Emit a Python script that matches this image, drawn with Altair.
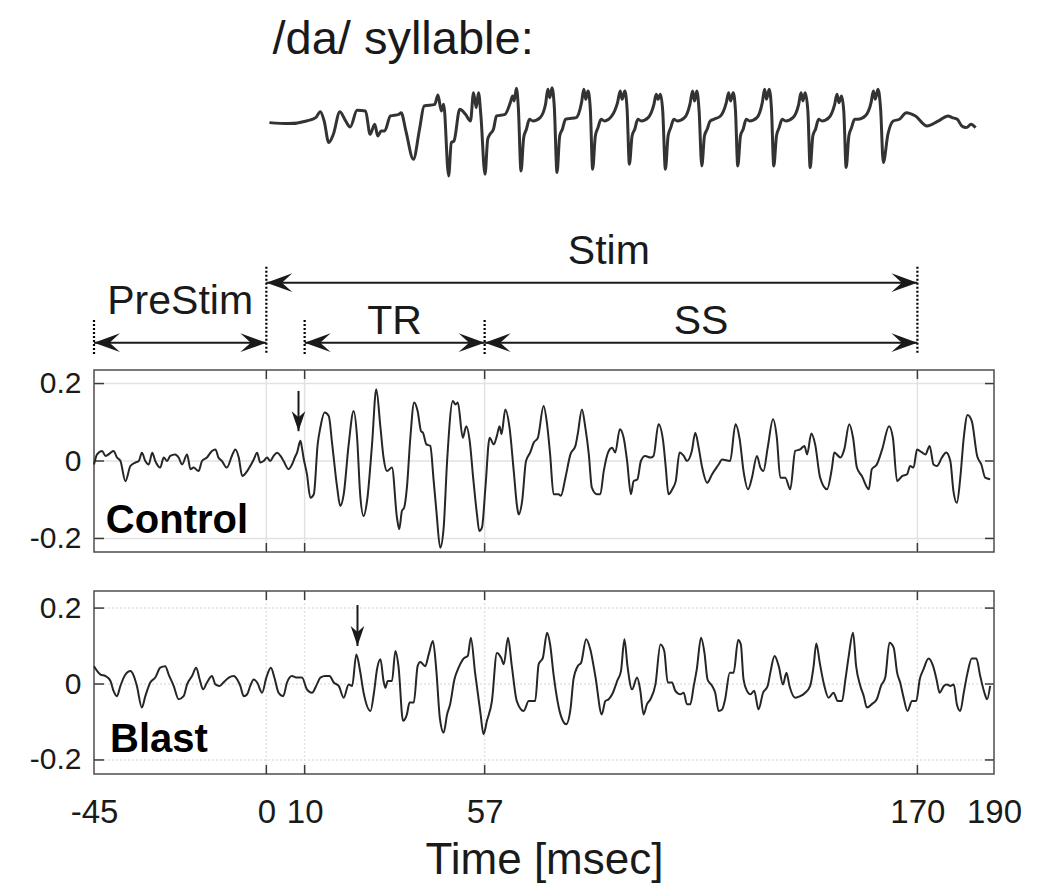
import altair as alt
import pandas as pd

# ---------------- data ----------------
control_t = [
    -45.0, -44.2, -42.9, -42.0, -40.7, -39.9, -39.0, -38.1, -36.8, -35.5,
    -34.2, -33.3, -32.5, -31.6, -30.7, -29.8, -29.0, -27.7, -26.8, -25.9,
    -25.1, -23.8, -22.9, -22.0, -20.7, -19.8, -19.0, -17.7, -16.8, -15.5,
    -14.2, -13.3, -12.5, -11.6, -10.3, -9.0, -8.1, -7.2, -6.3, -5.0,
    -4.2, -3.3, -2.4, -1.6, -0.7, 0.2, 1.0, 1.9, 2.8, 3.7,
    4.5, 5.8, 6.7, 7.6, 8.0, 8.9, 9.3, 9.7, 10.6, 11.5,
    12.4, 13.4, 14.1, 15.2, 16.3, 17.2, 18.5, 19.3, 20.2, 21.5,
    22.8, 23.7, 24.5, 25.4, 26.3, 27.6, 28.7, 29.8, 30.6, 31.5,
    32.8, 34.1, 34.7, 35.4, 36.0, 36.7, 37.6, 38.6, 39.5, 40.4,
    40.9, 41.8, 42.8, 43.7, 44.4, 45.4, 46.3, 47.2, 48.7, 49.4,
    50.0, 51.3, 52.2, 53.1, 54.0, 55.0, 55.6, 56.3, 57.2, 58.3,
    59.4, 60.2, 60.9, 61.4, 62.4, 63.5, 64.6, 65.5, 65.9, 66.8,
    67.8, 68.9, 69.8, 70.9, 72.4, 73.3, 74.1, 75.0, 76.3, 76.9,
    78.1, 79.4, 80.7, 81.3, 82.4, 83.3, 84.2, 85.0, 86.3, 87.2,
    88.1, 89.4, 90.3, 91.1, 92.3, 93.3, 94.2, 95.2, 95.9, 96.9,
    97.8, 98.9, 100.3, 101.1, 102.4, 103.6, 104.3, 105.0, 106.2, 106.9,
    107.9, 109.0, 109.8, 111.1, 112.0, 112.9, 113.8, 115.1, 116.4, 118.1,
    119.0, 121.1, 122.5, 123.6, 124.6, 125.8, 126.8, 128.1, 129.0, 129.8,
    130.9, 132.3, 133.3, 134.2, 135.5, 136.8, 138.1, 139.4, 140.5, 141.2,
    142.3, 143.3, 144.6, 146.4, 147.7, 148.3, 149.9, 150.9, 152.2, 153.2,
    154.2, 155.5, 157.3, 158.1, 159.4, 160.8, 162.6, 163.6, 164.7, 166.0,
    167.3, 168.1, 169.0, 169.9, 171.2, 172.1, 173.2, 174.2, 175.1, 176.4,
    177.5, 178.6, 179.4, 180.3, 181.2, 182.1, 183.1, 184.2, 185.6, 186.7,
    187.7, 189.0,
]
control_v = [
    -0.009, 0.017, 0.026, 0.013, 0.021, 0.026, 0.009, 0.000, -0.052, -0.013,
    -0.004, 0.000, 0.021, 0.000, -0.009, 0.021, 0.000, -0.017, 0.009, 0.000,
    0.013, 0.017, 0.009, -0.009, 0.017, -0.021, -0.017, -0.026, 0.000, 0.009,
    0.026, 0.030, 0.009, 0.000, -0.017, 0.013, 0.030, 0.009, -0.039, -0.026,
    -0.013, 0.004, 0.021, -0.004, 0.000, 0.009, 0.000, 0.013, 0.021, 0.013,
    0.000, -0.021, -0.009, 0.013, 0.021, 0.052, 0.034, 0.009, -0.034, -0.095,
    -0.086, 0.043, 0.086, 0.125, 0.116, 0.043, -0.069, -0.116, -0.086, 0.043,
    0.129, 0.060, -0.086, -0.142, -0.103, 0.043, 0.185, 0.086, 0.009, -0.026,
    -0.017, -0.146, -0.176, -0.129, -0.120, -0.069, 0.060, 0.151, 0.129, 0.077,
    0.073, 0.043, 0.039, -0.052, -0.129, -0.224, -0.172, 0.000, 0.155, 0.146,
    0.151, 0.060, 0.090, 0.052, -0.043, -0.138, -0.181, -0.172, -0.069, 0.060,
    0.043, 0.065, 0.090, 0.069, 0.133, 0.086, -0.026, -0.120, -0.138, -0.103,
    0.000, 0.022, 0.047, 0.060, 0.142, 0.095, 0.017, -0.086, -0.086, -0.090,
    -0.043, 0.017, 0.039, 0.069, 0.133, 0.086, 0.017, -0.069, -0.086, -0.086,
    -0.026, 0.026, 0.034, 0.022, 0.082, 0.060, 0.000, -0.086, -0.052, -0.047,
    0.000, 0.013, 0.009, 0.013, 0.095, 0.052, -0.017, -0.086, -0.069, -0.052,
    0.022, 0.013, 0.000, 0.026, 0.073, 0.034, -0.017, -0.056, -0.034, -0.009,
    0.004, 0.000, 0.095, 0.056, -0.026, -0.073, -0.043, 0.013, -0.017, -0.026,
    0.034, 0.108, 0.060, -0.043, -0.043, -0.073, 0.026, 0.030, 0.039, 0.017,
    0.071, 0.043, -0.043, -0.073, -0.017, 0.022, 0.009, 0.030, 0.095, 0.060,
    -0.017, -0.039, -0.073, -0.021, -0.009, 0.030, 0.090, 0.060, -0.052, -0.039,
    -0.034, -0.013, -0.017, 0.030, 0.022, 0.017, 0.039, -0.009, -0.013, 0.009,
    0.022, 0.000, -0.077, -0.108, -0.043, 0.060, 0.119, 0.103, 0.013, -0.009,
    -0.043, -0.047,
]

blast_t = [
    -45.0, -43.3, -42.0, -40.7, -39.9, -39.0, -38.1, -36.8, -35.5, -34.6,
    -33.8, -32.5, -31.6, -30.3, -29.0, -27.7, -26.4, -25.5, -24.2, -22.9,
    -21.6, -20.7, -19.4, -18.3, -17.4, -16.5, -15.5, -14.2, -13.3, -12.2,
    -11.2, -9.8, -8.5, -7.6, -6.8, -5.9, -5.0, -4.2, -3.3, -2.4,
    -1.1, 0.0, 1.2, 2.1, 3.2, 4.4, 5.4, 6.7, 8.0, 9.3,
    10.6, 11.9, 13.2, 14.1, 15.4, 16.5, 17.6, 18.9, 20.2, 21.5,
    22.4, 23.5, 24.4, 25.4, 27.2, 28.1, 28.9, 29.8, 30.6, 31.1,
    31.7, 32.8, 33.7, 34.5, 35.7, 36.7, 37.4, 38.5, 39.5, 40.2,
    41.5, 42.4, 43.5, 44.4, 45.3, 46.3, 47.2, 48.0, 49.1, 50.2,
    51.5, 52.6, 53.4, 54.5, 55.9, 56.7, 57.6, 58.9, 60.2, 61.3,
    62.0, 63.1, 64.1, 65.4, 67.2, 68.5, 70.2, 71.1, 72.2, 73.3,
    74.1, 75.0, 76.8, 78.3, 79.4, 80.2, 81.3, 82.2, 83.5, 84.6,
    85.9, 87.6, 88.5, 89.4, 90.5, 91.6, 92.6, 93.5, 94.3, 95.5,
    96.8, 97.6, 98.5, 99.4, 100.3, 101.6, 102.9, 103.9, 104.8, 105.9,
    106.8, 108.1, 109.0, 109.8, 110.7, 111.6, 112.4, 113.5, 114.4, 115.2,
    116.4, 117.2, 118.1, 119.0, 119.8, 121.0, 122.0, 123.2, 123.9, 124.6,
    125.5, 126.4, 127.4, 128.5, 129.7, 130.9, 131.6, 132.7, 133.8, 134.9,
    135.8, 136.6, 138.1, 139.4, 140.7, 142.0, 142.9, 143.6, 144.5, 145.7,
    146.8, 148.1, 149.2, 150.3, 151.2, 152.0, 153.2, 154.0, 155.1, 156.0,
    156.8, 158.1, 159.4, 160.5, 161.6, 162.7, 163.8, 164.7, 165.5, 166.4,
    167.4, 168.6, 169.7, 170.6, 171.6, 172.9, 174.1, 175.0, 175.8, 176.9,
    177.7, 178.6, 179.5, 180.3, 181.2, 182.1, 183.1, 184.2, 185.4, 186.4,
    187.5, 188.2, 189.0,
]
blast_v = [
    0.047, 0.025, 0.021, 0.008, -0.018, -0.032, -0.005, 0.025, 0.034, 0.021,
    -0.005, -0.062, -0.032, 0.004, 0.017, 0.043, 0.047, 0.025, -0.005, -0.040,
    -0.032, -0.001, 0.021, 0.043, 0.012, -0.014, 0.004, 0.021, -0.001, -0.005,
    0.004, 0.017, 0.021, 0.012, -0.005, -0.032, -0.027, -0.005, 0.012, 0.004,
    -0.023, 0.017, 0.043, 0.017, -0.023, -0.032, 0.004, 0.021, 0.017, 0.017,
    -0.014, -0.023, -0.001, 0.017, 0.021, 0.021, 0.004, -0.005, -0.036, -0.001,
    -0.005, 0.078, 0.039, -0.023, -0.071, -0.023, 0.039, 0.065, 0.008, -0.010,
    0.008, 0.008, 0.087, 0.047, -0.097, -0.080, -0.049, -0.049, 0.047, 0.058,
    0.047, 0.078, 0.113, 0.034, -0.089, -0.128, -0.080, -0.053, 0.012, 0.043,
    0.067, 0.074, 0.122, 0.030, -0.076, -0.132, -0.097, -0.045, 0.082, 0.069,
    0.052, 0.122, 0.047, -0.045, -0.071, -0.045, -0.045, 0.052, 0.069, 0.135,
    0.104, 0.025, -0.080, -0.106, -0.067, 0.012, 0.047, 0.056, 0.118, 0.091,
    0.021, -0.080, -0.045, -0.040, -0.023, 0.008, 0.034, 0.118, 0.047, -0.014,
    0.017, -0.014, -0.080, -0.053, -0.040, -0.001, 0.104, 0.087, 0.004, 0.004,
    -0.018, -0.027, -0.023, -0.053, -0.053, -0.005, 0.039, 0.122, 0.082, 0.012,
    -0.005, -0.023, -0.071, -0.067, -0.040, 0.030, 0.030, 0.116, 0.104, 0.012,
    -0.018, -0.027, -0.018, -0.067, -0.023, -0.005, 0.030, 0.074, 0.047, -0.001,
    0.030, -0.005, -0.036, -0.032, -0.023, -0.005, 0.047, 0.107, 0.056, -0.005,
    -0.036, -0.023, -0.045, -0.045, 0.012, 0.069, 0.135, 0.047, -0.005, -0.032,
    -0.062, -0.053, -0.040, -0.005, 0.017, 0.109, 0.096, 0.030, 0.004, -0.036,
    -0.071, -0.045, -0.045, 0.012, 0.039, 0.067, 0.047, 0.012, -0.023, -0.005,
    -0.001, -0.005, -0.001, -0.053, -0.071, -0.023, 0.030, 0.067, 0.067, 0.021,
    -0.023, -0.040, -0.005,
]

# /da/ stimulus waveform (time in ms, amplitude in arbitrary units)
stim_t = [
    0.8, 5.7, 10.5, 12.9, 14.1, 15.1, 16.3, 17.5, 19.2, 20.7,
    21.9, 23.7, 25.9, 27.1, 28.3, 29.1, 30.0, 30.9, 32.4, 34.6,
    35.2, 36.4, 38.4, 40.0, 41.2, 44.0, 44.8, 45.7, 46.3, 47.6,
    48.3, 49.0, 50.5, 52.0, 53.3, 54.1, 54.8, 55.4, 56.0, 57.1,
    57.8, 58.4, 59.3, 60.1, 62.3, 63.7, 64.3, 64.7, 65.3, 65.8, 66.5,
    67.2, 67.9, 68.7, 69.6, 71.5, 72.9, 73.5, 74.0, 74.6, 75.2, 75.9,
    76.6, 77.3, 78.1, 79.0, 80.9, 82.3, 82.9, 83.4, 84.0, 84.6, 85.2,
    85.9, 86.6, 87.4, 88.3, 90.2, 91.7, 92.4, 92.9, 93.6, 94.2, 94.8,
    95.5, 96.2, 97.0, 97.9, 99.7, 101.2, 101.8, 102.3, 102.9, 103.5, 104.2,
    104.9, 105.6, 106.4, 107.3, 109.2, 110.6, 111.3, 111.8, 112.4, 113.0, 113.7,
    114.4, 115.1, 115.9, 116.8, 118.6, 120.1, 120.7, 121.2, 121.9, 122.5, 123.1,
    123.8, 124.5, 125.3, 126.2, 128.1, 129.5, 130.1, 130.6, 131.3, 131.9, 132.5,
    133.2, 133.9, 134.7, 135.6, 137.5, 139.0, 139.6, 140.1, 140.7, 141.4, 142.0,
    142.7, 143.4, 144.2, 145.1, 146.9, 148.4, 149.0, 149.5, 150.2, 150.8, 151.4,
    152.1, 152.8, 153.6, 154.5, 156.4, 157.9, 158.5, 159.0, 159.7, 160.4, 161.1,
    162.3, 163.7, 165.3, 167.1, 169.5, 172.5, 175.5, 178.0, 179.1, 180.4,
    181.6, 182.8, 184.0, 185.2,
]
stim_a = [
    0.0, -0.03, 0.05, 0.15, 0.33, 0.05, -0.6, -0.35, 0.33, 0.05,
    -0.13, 0.37, 0.35, -0.35, -0.05, -0.4, -0.25, -0.25, 0.2, 0.25,
    0.3, -0.23, -1.1, -0.2, 0.5, 0.55, 0.83, 0.35, 0.55, -1.6,
    -0.6, -0.55, 0.4, 0.25, 0.05, 0.9, 0.45, 0.9, 0.25, -1.55,
    -0.5, -0.35, -0.2, 0.2, 0.25, 0.6, 0.8, 0.65, 1.03, 0.45, -1.45,
    -0.45, -0.2, 0.1, 0.05, 0.15, 0.55, 1.0, 0.75, 1.05, 0.45, -1.5,
    -0.4, -0.2, 0.1, 0.12, 0.15, 0.6, 1.0, 0.7, 0.95, 0.4, -1.4,
    -0.4, -0.15, 0.1, 0.05, 0.2, 0.6, 0.95, 0.7, 0.95, 0.4, -1.25,
    -0.4, -0.2, 0.1, 0.05, 0.15, 0.55, 0.85, 0.7, 0.85, 0.35, -1.4,
    -0.4, -0.15, 0.1, 0.05, 0.15, 0.55, 0.95, 0.65, 0.95, 0.35, -1.3,
    -0.4, -0.2, 0.05, 0.1, 0.2, 0.6, 0.9, 0.65, 0.9, 0.35, -1.3,
    -0.4, -0.2, 0.1, 0.05, 0.15, 0.6, 1.0, 0.7, 1.0, 0.4, -1.3,
    -0.4, -0.15, 0.1, 0.05, 0.15, 0.55, 0.9, 0.65, 0.9, 0.35, -1.35,
    -0.4, -0.2, 0.1, 0.05, 0.15, 0.55, 0.85, 0.6, 0.8, 0.3, -1.35,
    -0.4, -0.15, 0.1, 0.1, 0.2, 0.6, 0.95, 0.7, 1.0, 0.4, -1.2,
    -0.35, 0.05, 0.1, 0.3, 0.2, -0.1, 0.05, 0.2, 0.15, 0.1,
    -0.1, -0.15, -0.05, -0.15,
]

x_ticks = [-45, 0, 10, 57, 170, 190]
grid_x = [0, 10, 57, 170]
y_ticks = [-0.2, 0, 0.2]
panel_names = ["Control", "Blast"]
onset_t = [8.4, 23.8]
onset_from = [0.181, 0.208]
onset_to = [0.077, 0.100]
seg_names = ["PreStim", "TR", "SS"]
seg_start = [-45, 10, 57]
seg_end = [0, 57, 170]
stim_name = "Stim"
stim_span = [0, 170]
tall_marks = [0, 170]
short_marks = [-45, 10, 57]
title_text = "/da/ syllable:"
x_title = "Time [msec]"

# ---------------- styling / layout ----------------
FONT = "Liberation Sans"
INK = "#1a1a1a"
TRACE = "#262626"
GRID = "#e2e2e2"
TICK = "#3a3a3a"
W = 900
TOP_H = 317
CTRL_H = 182
BLAST_H = 183
GAP = 39

LEFT_HEAD = "M0,0 L1,-0.36 L0.6,0 L1,0.36 Z"
RIGHT_HEAD = "M0,0 L-1,-0.36 L-0.6,0 L-1,0.36 Z"
DOWN_HEAD = "M0,0 L-0.34,-1 L0,-0.7 L0.34,-1 Z"

xs = alt.Scale(domain=[-45, 190], nice=False, zero=False)
y_label_expr = "datum.value > 0.1 ? '0.2' : (datum.value < -0.1 ? '-0.2' : '0')"
x_label_expr = "datum.value < 0 ? '-' + (-datum.value) : '' + datum.value"


def make_panel(t, v, idx, label_x, label_y, ydom, height, bottom, dashed):
    ysc = alt.Scale(domain=ydom, nice=False, zero=False)
    yax = alt.Axis(values=y_ticks, labelExpr=y_label_expr, labelFontSize=30,
                   labelPadding=13, labelColor=INK, ticks=False, domain=False,
                   grid=False, title=None, minExtent=80, maxExtent=80)
    if bottom:
        xax = alt.Axis(values=x_ticks, labelExpr=x_label_expr, labelFontSize=33,
                       labelPadding=22, labelColor=INK, labelFlush=False,
                       labelOverlap=False, ticks=False, domain=False, grid=False,
                       title=x_title, titleFontSize=44, titleFontWeight="normal",
                       titleColor=INK, titlePadding=9)
    else:
        xax = None

    def X(f):
        return alt.X(f, scale=xs, axis=xax)

    def Y(f):
        return alt.Y(f, scale=ysc, axis=yax)

    grid_kw = dict(color=GRID, strokeWidth=1.5)
    if dashed:
        grid_kw["strokeDash"] = [2, 2]
    gxdf = pd.DataFrame({"g": grid_x})
    gydf = pd.DataFrame({"g": y_ticks})
    gx = alt.Chart(gxdf).mark_rule(**grid_kw).encode(x=X("g:Q"))
    gy = alt.Chart(gydf).mark_rule(**grid_kw).encode(y=Y("g:Q"))
    t_top = alt.Chart(gxdf).mark_rule(color=TICK, strokeWidth=1.5).encode(
        x=X("g:Q"), y=alt.value(0), y2=alt.value(9))
    t_bot = alt.Chart(gxdf).mark_rule(color=TICK, strokeWidth=1.5).encode(
        x=X("g:Q"), y=alt.value(height), y2=alt.value(height - 9))
    t_left = alt.Chart(gydf).mark_rule(color=TICK, strokeWidth=1.5).encode(
        y=Y("g:Q"), x=alt.value(0), x2=alt.value(10))
    t_right = alt.Chart(gydf).mark_rule(color=TICK, strokeWidth=1.5).encode(
        y=Y("g:Q"), x=alt.value(W), x2=alt.value(W - 9))

    line = alt.Chart(pd.DataFrame({"t": t, "v": v})).mark_line(
        color=TRACE, strokeWidth=2, interpolate="monotone").encode(
        x=X("t:Q"), y=Y("v:Q"))

    lab = alt.Chart(pd.DataFrame({"name": [panel_names[idx]],
                                  "lx": [label_x], "ly": [label_y]})).mark_text(
        align="left", baseline="alphabetic", fontSize=40, fontWeight="bold",
        color="black").encode(x=X("lx:Q"), y=Y("ly:Q"), text="name:N")

    adf = pd.DataFrame({"t": [onset_t[idx]], "y0": [onset_from[idx]],
                        "y1": [onset_to[idx]]})
    shaft = alt.Chart(adf).mark_rule(color=INK, strokeWidth=2).encode(
        x=X("t:Q"), y=Y("y0:Q"), y2="y1:Q")
    head = alt.Chart(adf).mark_point(shape=DOWN_HEAD, size=1600, filled=True,
                                     color=INK, opacity=1, strokeWidth=0).encode(
        x=X("t:Q"), y=Y("y1:Q"))

    return alt.layer(gx, gy, t_top, t_bot, t_left, t_right, line, lab, shaft,
                     head).properties(width=W, height=height)


ctrl = make_panel(control_t, control_v, 0, -41.9, -0.186, [-0.235, 0.235],
                  CTRL_H, False, False)
blast = make_panel(blast_t, blast_v, 1, -40.8, -0.18, [-0.237, 0.245],
                   BLAST_H, True, True)

# ---------------- top: stimulus + segment annotations ----------------
# one layout scale for the whole top strip; the stimulus amplitude is
# offset/scaled into it with a calculate transform
ytop = alt.Scale(domain=[0.70, 9.63], nice=False, zero=False)
STIM_BASE = 6.57
STIM_GAIN = 0.938


def XT(f):
    return alt.X(f, scale=xs, axis=None)


def YT(f):
    return alt.Y(f, scale=ytop, axis=None)


stim_wave = alt.Chart(pd.DataFrame({"t": stim_t, "a": stim_a})).transform_calculate(
    ly=f"{STIM_BASE} + {STIM_GAIN} * datum.a").mark_line(
    color="#333333", strokeWidth=3, interpolate="monotone").encode(
    x=XT("t:Q"), y=YT("ly:Q"))

title_layer = alt.Chart(pd.DataFrame({"txt": [title_text], "tx": [1.6]})).transform_calculate(
    ly="8.50").mark_text(
    align="left", baseline="alphabetic", fontSize=47, color=INK).encode(
    x=XT("tx:Q"), y=YT("ly:Q"), text="txt:N")

seg_df = pd.DataFrame({"name": seg_names, "start": seg_start, "end": seg_end})
stim_df = pd.DataFrame({"name": [stim_name], "start": [stim_span[0]],
                        "end": [stim_span[1]]})

head_kw = dict(filled=True, color=INK, opacity=1, strokeWidth=0, size=2700)


def arrow_row(df, level):
    base = alt.Chart(df).transform_calculate(ly=str(level))
    shaft = base.mark_rule(color=INK, strokeWidth=2).encode(
        x=XT("start:Q"), x2="end:Q", y=YT("ly:Q"))
    hl = base.mark_point(shape=LEFT_HEAD, **head_kw).encode(
        x=XT("start:Q"), y=YT("ly:Q"))
    hr = base.mark_point(shape=RIGHT_HEAD, **head_kw).encode(
        x=XT("end:Q"), y=YT("ly:Q"))
    return [shaft, hl, hr]


def label_layer(df, level, flt=None, dx=0):
    c = alt.Chart(df)
    if flt is not None:
        c = c.transform_filter(flt)
    c = c.transform_calculate(mid="(datum.start + datum.end) / 2", ly=str(level))
    kw = dict(fontSize=41, baseline="alphabetic", color=INK)
    if dx:
        kw["dx"] = dx
    return c.mark_text(**kw).encode(x=XT("mid:Q"), y=YT("ly:Q"), text="name:N")


dot_kw = dict(color="black", strokeWidth=2.2, strokeDash=[2, 2])
tall = alt.Chart(pd.DataFrame({"b": tall_marks})).transform_calculate(
    y0="2.51", y1="0.08").mark_rule(**dot_kw).encode(
    x=XT("b:Q"), y=YT("y0:Q"), y2="y1:Q")
short = alt.Chart(pd.DataFrame({"b": short_marks})).transform_calculate(
    y0="1.01", y1="0.0").mark_rule(**dot_kw).encode(
    x=XT("b:Q"), y=YT("y0:Q"), y2="y1:Q")

layers = [stim_wave, title_layer, tall, short]
layers += arrow_row(stim_df, 2.06)
layers += arrow_row(seg_df, 0.37)
layers.append(label_layer(stim_df, 2.59, dx=17))
layers.append(label_layer(seg_df, 1.18, flt="datum.name == 'PreStim'"))
layers.append(label_layer(seg_df, 0.62, flt="datum.name != 'PreStim'"))

top = alt.layer(*layers).properties(
    width=W, height=TOP_H, view=alt.ViewBackground(stroke="transparent"))

chart = alt.vconcat(top, ctrl, blast, spacing=GAP, bounds="flush").properties(
    padding={"left": 5, "top": 5, "right": 5, "bottom": 0}
).configure(font=FONT).configure_view(
    stroke="#4d4d4d", strokeWidth=1.5
).configure_text(font=FONT).configure_axis(labelFont=FONT, titleFont=FONT)

chart.save("out.html", embed_options={"renderer": "svg", "actions": False})
